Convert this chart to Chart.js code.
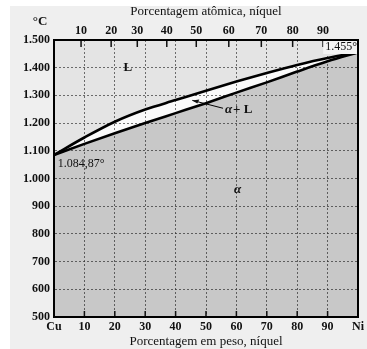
<!DOCTYPE html>
<html>
<head>
<meta charset="utf-8">
<script src="https://cdn.jsdelivr.net/npm/chart.js@4/dist/chart.umd.min.js"></script>
<style>
  html, body { margin: 0; padding: 0; background: #fff; }
  #wrap { width: 367px; height: 349px; }
</style>
</head>
<body>
<div id="wrap"><canvas id="c" width="367" height="349"></canvas></div>
<script>
// weight % Ni along the bottom axis
const wtNi = [0, 10, 20, 30, 40, 50, 60, 70, 80, 90, 100];
// liquidus (upper curve) and solidus (lower curve), degrees C
const liquidus = [1085, 1148, 1205, 1249, 1283, 1317, 1350, 1381, 1410, 1435, 1455];
const solidus = [1085, 1125, 1163, 1200, 1236, 1272, 1310, 1347, 1386, 1423, 1455];
// top axis: atomic % labels and where they sit on the weight % scale
const atLabels = [10, 20, 30, 40, 50, 60, 70, 80, 90];
const atOnWt = [8.9, 18.8, 27.4, 37.1, 46.8, 57.5, 68.2, 78.5, 88.5];
// bottom tick labels
const wtTicks = [0, 10, 20, 30, 40, 50, 60, 70, 80, 90, 100];
const wtTickLabels = ['Cu', '10', '20', '30', '40', '50', '60', '70', '80', '90', 'Ni'];

const serif = '"Liberation Serif", "DejaVu Serif", serif';
const tickFont = { family: serif, size: 12, weight: 'bold' };
const titleFont = { family: serif, size: 13 };

const toXY = (ys) => wtNi.map((x, i) => ({ x: x, y: ys[i] }));

// page background, plot background, frame, inner tick marks and the text notes
const decor = {
  id: 'decor',
  beforeDraw(chart) {
    const { ctx, chartArea: a } = chart;
    ctx.save();
    ctx.fillStyle = '#ffffff';
    ctx.fillRect(0, 0, chart.width, chart.height);
    ctx.fillStyle = '#efefef';
    ctx.fillRect(10, 6, chart.width - 10, chart.height - 6);
    ctx.fillStyle = '#fafafa';
    ctx.fillRect(a.left, a.top, a.right - a.left, a.bottom - a.top);
    ctx.restore();
  },
  afterDatasetsDraw(chart) {
    const { ctx, chartArea: a, scales } = chart;
    const x = scales.x, y = scales.y;
    ctx.save();
    // inner tick marks
    ctx.strokeStyle = '#111';
    ctx.lineWidth = 1.5;
    ctx.beginPath();
    atOnWt.forEach(v => {
      const px = x.getPixelForValue(v);
      ctx.moveTo(px, a.top); ctx.lineTo(px, a.top + 7);
    });
    wtTicks.slice(1, -1).forEach(v => {
      const px = x.getPixelForValue(v);
      ctx.moveTo(px, a.bottom); ctx.lineTo(px, a.bottom - 6);
    });
    ctx.stroke();

    // melting point of Ni, on a light box
    ctx.font = '12px ' + serif;
    const t = '1.455°';
    const tw = ctx.measureText(t).width;
    const ty = y.getPixelForValue(1474);
    ctx.fillStyle = '#f4f4f4';
    ctx.fillRect(a.right - tw - 3, a.top, tw + 3, 14);
    ctx.fillStyle = '#111';
    ctx.textBaseline = 'middle';
    ctx.textAlign = 'right';
    ctx.fillText(t, a.right - 1, ty);

    // frame
    ctx.lineWidth = 2;
    ctx.strokeStyle = '#000';
    ctx.strokeRect(a.left, a.top, a.right - a.left, a.bottom - a.top);

    // notes
    ctx.font = 'bold 13px ' + serif;
    ctx.textAlign = 'center';
    ctx.fillText('°C', 40, 22);
    ctx.fillText('L', x.getPixelForValue(24.3), y.getPixelForValue(1402));
    ctx.font = '12px ' + serif;
    ctx.textAlign = 'left';
    ctx.fillText('1.084,87°', x.getPixelForValue(1.2), y.getPixelForValue(1053));
    ctx.font = 'italic bold 13px ' + serif;
    ctx.fillText('α', x.getPixelForValue(59.2), y.getPixelForValue(958));
    const lx = x.getPixelForValue(55.6), ly = y.getPixelForValue(1250);
    ctx.fillText('α', lx + 2, ly);
    ctx.font = 'bold 13px ' + serif;
    ctx.fillText('+ L', lx + 10, ly);
    // leader line with arrow head
    const ax = x.getPixelForValue(45.5), ay = y.getPixelForValue(1282);
    ctx.lineWidth = 1;
    ctx.beginPath();
    ctx.moveTo(lx, ly - 1);
    ctx.lineTo(ax, ay);
    ctx.stroke();
    ctx.beginPath();
    ctx.moveTo(ax, ay);
    ctx.lineTo(ax + 7, ay - 1);
    ctx.lineTo(ax + 5, ay + 3);
    ctx.closePath();
    ctx.fill();
    ctx.restore();
  }
};

const grid = {
  color: 'rgba(60,60,60,0.7)',
  lineWidth: 1,
  drawTicks: false
};

new Chart(document.getElementById('c'), {
  type: 'line',
  data: {
    datasets: [
      {
        label: 'liquidus',
        data: toXY(liquidus),
        borderColor: '#000',
        borderWidth: 2.6,
        pointRadius: 0,
        cubicInterpolationMode: 'monotone',
        fill: 'end',
        backgroundColor: 'rgba(0,0,0,0.085)'
      },
      {
        label: 'solidus',
        data: toXY(solidus),
        borderColor: '#000',
        borderWidth: 2.6,
        pointRadius: 0,
        cubicInterpolationMode: 'monotone',
        fill: 'start',
        backgroundColor: 'rgba(0,0,0,0.2)'
      }
    ]
  },
  options: {
    responsive: false,
    animation: false,
    layout: { padding: { left: 0, right: 2, top: 0, bottom: 0 } },
    plugins: { legend: { display: false }, tooltip: { enabled: false } },
    scales: {
      x: {
        type: 'linear',
        position: 'bottom',
        min: 0, max: 100,
        afterBuildTicks: s => { s.ticks = wtTicks.map(v => ({ value: v })); },
        afterFit: s => { s.height = 32; },
        ticks: {
          autoSkip: false, maxRotation: 0, padding: 3,
          color: '#111', font: tickFont,
          callback: (v, i) => wtTickLabels[i]
        },
        grid: grid,
        border: { color: '#000', width: 2, dash: [2, 2] },
        title: {
          display: true, text: 'Porcentagem em peso, níquel',
          color: '#111', font: titleFont, padding: { top: 0, bottom: 0 }
        }
      },
      x2: {
        type: 'linear',
        position: 'top',
        min: 0, max: 100,
        afterBuildTicks: s => { s.ticks = atOnWt.map(v => ({ value: v })); },
        afterFit: s => { s.height = 40; },
        ticks: {
          autoSkip: false, maxRotation: 0, padding: 2,
          color: '#111', font: tickFont,
          callback: (v, i) => atLabels[i]
        },
        grid: { display: false, drawTicks: false },
        border: { color: '#000', width: 2 },
        title: {
          display: true, text: 'Porcentagem atômica, níquel',
          color: '#111', font: titleFont, padding: { top: 4, bottom: 0 }
        }
      },
      y: {
        type: 'linear',
        min: 500, max: 1500,
        afterFit: s => { s.width = 54; },
        ticks: {
          stepSize: 100, padding: 4,
          color: '#111', font: tickFont,
          callback: v => v >= 1000 ? '1.' + String(v).slice(1) : String(v)
        },
        grid: grid,
        border: { color: '#000', width: 2, dash: [2, 2] }
      }
    }
  },
  plugins: [decor]
});
</script>
</body>
</html>
